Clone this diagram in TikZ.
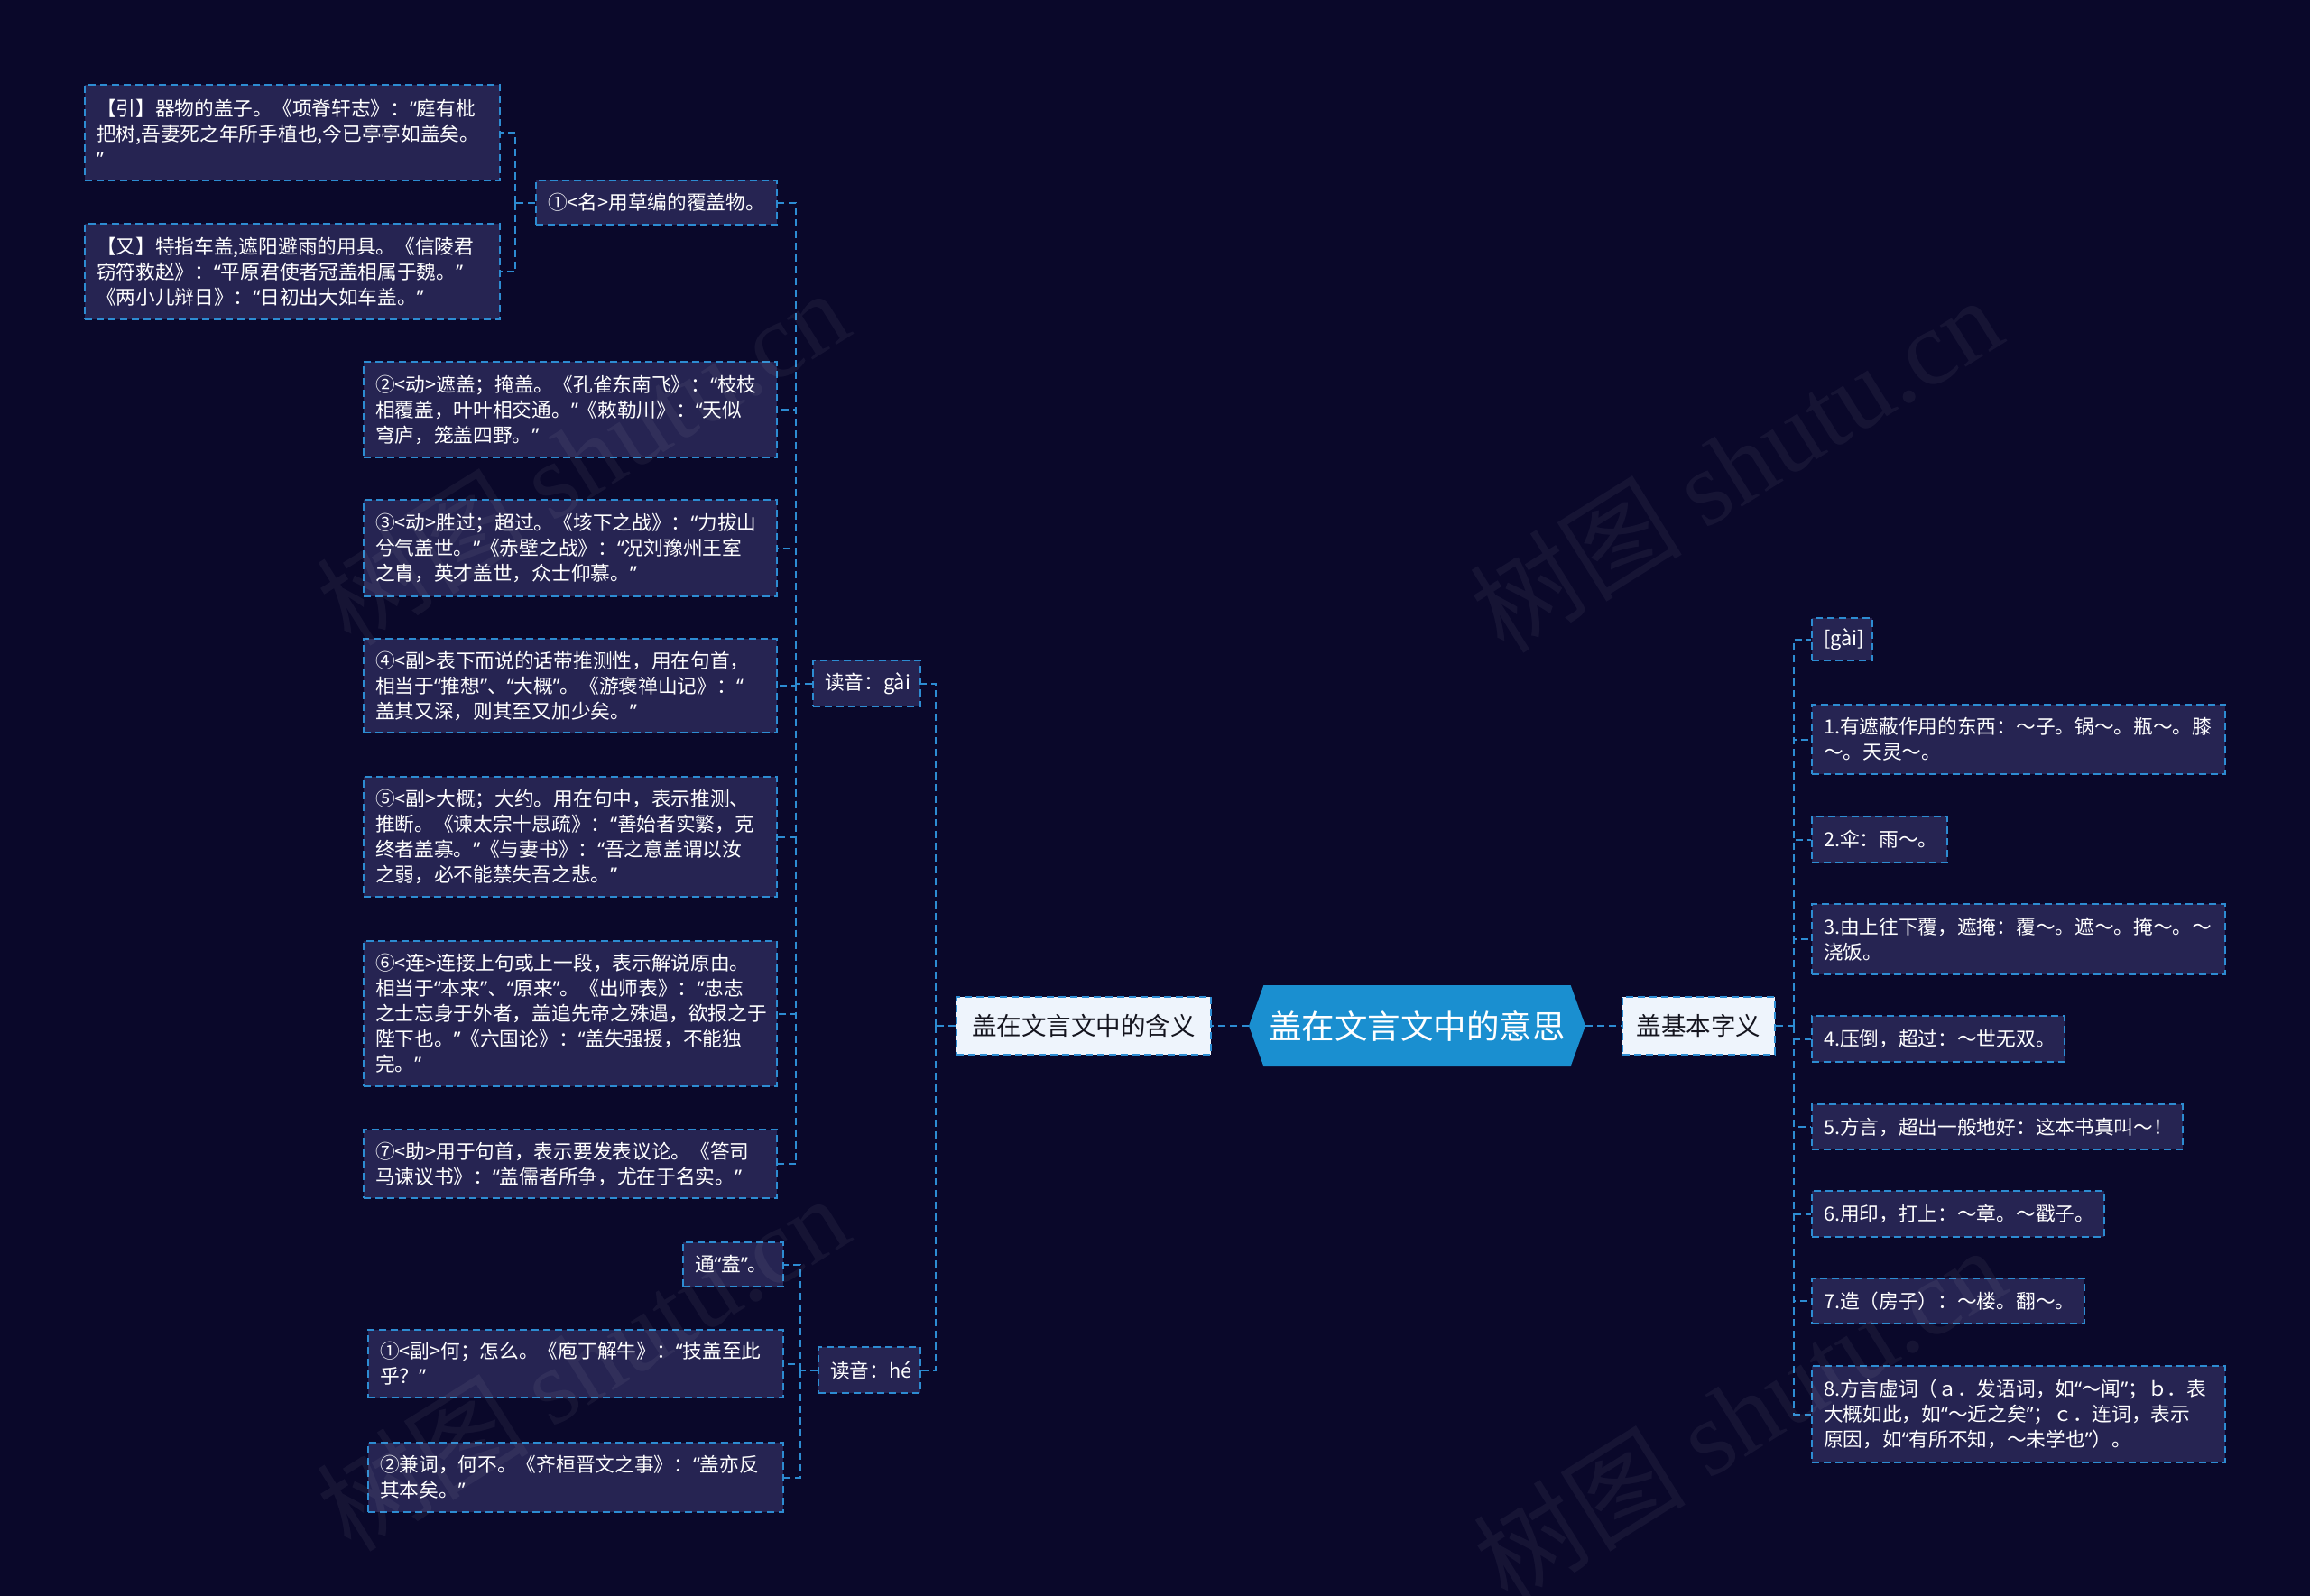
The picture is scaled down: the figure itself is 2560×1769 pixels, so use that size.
\documentclass[tikz,border=0pt]{standalone}
\usepackage{fontspec}
\setmainfont{Noto Sans CJK SC}
\newfontfamily\wmfont{Liberation Serif}
\newfontfamily\qfont{Noto Sans}
\newcommand\myoq{{\qfont “}}
\newcommand\mycq{{\qfont ”}}
\usetikzlibrary{shapes.symbols}
\definecolor{bgc}{RGB}{10,8,42}
\definecolor{boxc}{RGB}{38,36,82}
\definecolor{linec}{RGB}{45,140,210}
\definecolor{rootc}{RGB}{26,143,208}
\definecolor{branchc}{RGB}{238,244,252}
\definecolor{darktext}{RGB}{20,20,30}
\tikzset{
 dsh/.style={line width=2pt, dash pattern=on 8pt off 5pt},
 leaf/.style={draw=linec, fill=boxc, dsh, text=white, font=\fontsize{21.7}{28}\selectfont, align=left, anchor=north west, inner xsep=13pt, inner ysep=0pt},
 conn/.style={draw=linec, dsh},
 branch/.style={draw=linec, fill=branchc, dsh, text=darktext, font=\fontsize{27.5}{32}\selectfont, minimum height=64pt, inner xsep=0pt, align=center},
 rootnode/.style={signal, signal to=west and east, signal pointer angle=140, fill=rootc, text=white, font=\fontsize{36.5}{40}\selectfont, minimum height=90pt, minimum width=373pt, inner xsep=0pt},
 wm/.style={text=white, text opacity=0.05, rotate=32, font=\fontsize{118}{120}\selectfont}
}
\begin{document}
\begin{tikzpicture}[x=1pt,y=1pt]
\useasboundingbox (0,0) rectangle (2560,-1769);
\fill[bgc] (0,0) rectangle (2560,-1769);

% root and branches
\node[rootnode] (root) at (1570.5,-1137) {盖在文言文中的意思};
\node[branch, minimum width=282pt] (han) at (1201,-1137) {盖在文言文中的含义};
\node[branch, minimum width=169pt] (jb) at (1882.5,-1137) {盖基本字义};

% left level 2
\node[leaf, text width=93pt, minimum height=51pt] (gai) at (900,-731) {读音：gài};
\node[leaf, text width=87pt, minimum height=51pt] (he) at (906,-1492) {读音：hé};

% gai children
\node[leaf, text width=241pt, minimum height=49pt] (n1) at (593,-199) {①<名>用草编的覆盖物。};
\node[leaf, text width=434pt, minimum height=106pt] (l1) at (93,-93) {【引】器物的盖子。《项脊轩志》：\myoq{}庭有枇\\把树,吾妻死之年所手植也,今已亭亭如盖矣。\\\mycq{}};
\node[leaf, text width=434pt, minimum height=106pt] (l2) at (93,-247) {【又】特指车盖,遮阳避雨的用具。《信陵君\\窃符救赵》：\myoq{}平原君使者冠盖相属于魏。\mycq{}\\《两小儿辩日》：\myoq{}日初出大如车盖。\mycq{}};
\node[leaf, text width=432pt, minimum height=106pt] (n2) at (402,-400) {②<动>遮盖；掩盖。《孔雀东南飞》：\myoq{}枝枝\\相覆盖，叶叶相交通。\mycq{}《敕勒川》：\myoq{}天似\\穹庐，笼盖四野。\mycq{}};
\node[leaf, text width=432pt, minimum height=107pt] (n3) at (402,-553) {③<动>胜过；超过。《垓下之战》：\myoq{}力拔山\\兮气盖世。\mycq{}《赤壁之战》：\myoq{}况刘豫州王室\\之胄，英才盖世，众士仰慕。\mycq{}};
\node[leaf, text width=432pt, minimum height=104pt] (n4) at (402,-707) {④<副>表下而说的话带推测性，用在句首，\\相当于\myoq{}推想\mycq{}、\myoq{}大概\mycq{}。《游褒禅山记》：\myoq{}\\盖其又深，则其至又加少矣。\mycq{}};
\node[leaf, text width=432pt, minimum height=133pt] (n5) at (402,-860) {⑤<副>大概；大约。用在句中，表示推测、\\推断。《谏太宗十思疏》：\myoq{}善始者实繁，克\\终者盖寡。\mycq{}《与妻书》：\myoq{}吾之意盖谓以汝\\之弱，必不能禁失吾之悲。\mycq{}};
\node[leaf, text width=432pt, minimum height=161pt] (n6) at (402,-1042) {⑥<连>连接上句或上一段，表示解说原由。\\相当于\myoq{}本来\mycq{}、\myoq{}原来\mycq{}。《出师表》：\myoq{}忠志\\之士忘身于外者，盖追先帝之殊遇，欲报之于\\陛下也。\mycq{}《六国论》：\myoq{}盖失强援，不能独\\完。\mycq{}};
\node[leaf, text width=432pt, minimum height=76pt] (n7) at (402,-1251) {⑦<助>用于句首，表示要发表议论。《答司\\马谏议书》：\myoq{}盖儒者所争，尤在于名实。\mycq{}};

% he children
\node[leaf, text width=85pt, minimum height=49pt] (h0) at (756,-1376) {通\myoq{}盍\mycq{}。};
\node[leaf, text width=434pt, minimum height=75pt] (h1) at (407,-1473) {①<副>何；怎么。《庖丁解牛》：\myoq{}技盖至此\\乎？\mycq{}};
\node[leaf, text width=434pt, minimum height=77pt] (h2) at (407,-1598) {②兼词，何不。《齐桓晋文之事》：\myoq{}盖亦反\\其本矣。\mycq{}};

% right children
\node[leaf, text width=41pt, minimum height=47pt] (r0) at (2007,-684) {[gài]};
\node[leaf, text width=432pt, minimum height=77pt] (r1) at (2007,-780) {1.有遮蔽作用的东西：～子。锅～。瓶～。膝\\～。天灵～。};
\node[leaf, text width=124pt, minimum height=51pt] (r2) at (2007,-904) {2.伞：雨～。};
\node[leaf, text width=432pt, minimum height=78pt] (r3) at (2007,-1001) {3.由上往下覆，遮掩：覆～。遮～。掩～。～\\浇饭。};
\node[leaf, text width=254pt, minimum height=51pt] (r4) at (2007,-1125) {4.压倒，超过：～世无双。};
\node[leaf, text width=385pt, minimum height=50pt] (r5) at (2007,-1223) {5.方言，超出一般地好：这本书真叫～！};
\node[leaf, text width=298pt, minimum height=51pt] (r6) at (2007,-1319) {6.用印，打上：～章。～戳子。};
\node[leaf, text width=276pt, minimum height=50pt] (r7) at (2007,-1416) {7.造（房子）：～楼。翻～。};
\node[leaf, text width=432pt, minimum height=107pt] (r8) at (2007,-1513) {8.方言虚词（ａ．发语词，如\myoq{}～闻\mycq{}；ｂ．表\\大概如此，如\myoq{}～近之矣\mycq{}；ｃ．连词，表示\\原因，如\myoq{}有所不知，～未学也\mycq{}）。};

% connectors
\draw[conn] (root.west) -- (han.east);
\draw[conn] (root.east) -- (jb.west);
\draw[conn] (han.west) -- ++(-22,0) coordinate (t1);
\draw[conn] (t1) |- (gai.east);
\draw[conn] (t1) |- (he.east);
\draw[conn] (gai.west) -- ++(-18,0) coordinate (t2);
\foreach \c in {n1,n2,n3,n4,n5,n6,n7} \draw[conn] (t2) |- (\c.east);
\draw[conn] (n1.west) -- ++(-22,0) coordinate (t3);
\foreach \c in {l1,l2} \draw[conn] (t3) |- (\c.east);
\draw[conn] (he.west) -- ++(-19,0) coordinate (t4);
\foreach \c in {h0,h1,h2} \draw[conn] (t4) |- (\c.east);
\draw[conn] (jb.east) -- ++(20,0) coordinate (t5);
\foreach \c in {r0,r1,r2,r3,r4,r5,r6,r7,r8} \draw[conn] (t5) |- (\c.west);

% watermark
\node[wm] (w1) at (645,-506) {树图 {\wmfont shutu.cn}};
\node[wm] (w2) at (1923,-514) {树图 {\wmfont shutu.cn}};
\node[wm] (w3) at (645,-1510) {树图 {\wmfont shutu.cn}};
\node[wm] (w4) at (1927,-1567) {树图 {\wmfont shutu.cn}};
\end{tikzpicture}
\end{document}
